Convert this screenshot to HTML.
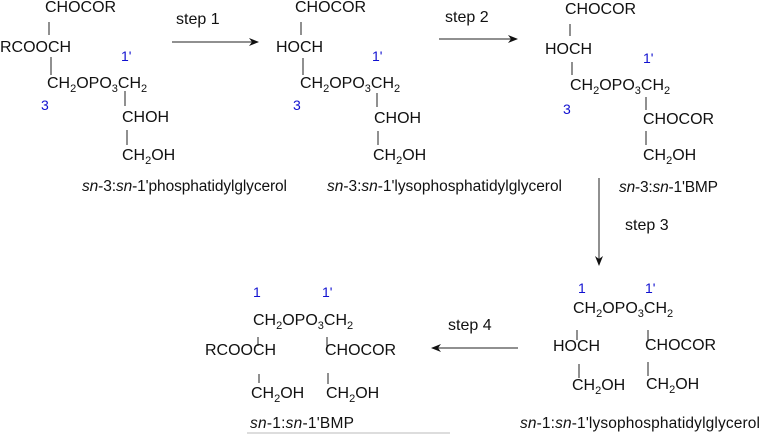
<!DOCTYPE html>
<html><head><meta charset="utf-8"><style>
html,body{margin:0;padding:0;background:#fff;}
svg{display:block;}
text{font-family:"Liberation Sans",Arial,sans-serif;font-size:16px;fill:#111;}
.b{fill:#1010d0;font-size:14px;}
.s{font-size:11px;}
.c{font-size:15.5px;}
line{stroke:#222;stroke-width:1;}
</style></head><body>
<svg width="762" height="434" viewBox="0 0 762 434" xmlns="http://www.w3.org/2000/svg">
<defs><marker id="ah" markerWidth="10" markerHeight="8" refX="9" refY="4" orient="auto" markerUnits="userSpaceOnUse"><path d="M0,0 L10,4 L0,8 L3,4 z" fill="#111"/></marker></defs>

<text x="45" y="12">CHOCOR</text>
<line x1="49" y1="22" x2="49" y2="35"/>
<text x="0" y="52">RCOOCH</text>
<line x1="51" y1="57" x2="51" y2="75"/>
<text x="47" y="88">CH<tspan class="s" dy="4">2</tspan><tspan dy="-4">OPO</tspan><tspan class="s" dy="4">3</tspan><tspan dy="-4">CH</tspan><tspan class="s" dy="4">2</tspan></text>
<text class="b" x="121" y="61">1'</text>
<text class="b" x="41" y="110">3</text>
<line x1="125" y1="91" x2="125" y2="106"/>
<text x="122" y="122">CHOH</text>
<line x1="127" y1="130" x2="127" y2="145"/>
<text x="122" y="160">CH<tspan class="s" dy="4">2</tspan><tspan dy="-4">OH</tspan></text>
<text class="c" x="82" y="191" textLength="205"><tspan font-style="italic">sn</tspan>-3:<tspan font-style="italic">sn</tspan>-1'phosphatidylglycerol</text>
<text x="176" y="24">step 1</text>
<line x1="172" y1="42" x2="258" y2="42" marker-end="url(#ah)"/>

<text x="295" y="12">CHOCOR</text>
<line x1="301" y1="22" x2="301" y2="35"/>
<text x="276" y="52">HOCH</text>
<line x1="303" y1="58" x2="303" y2="75"/>
<text x="300" y="88">CH<tspan class="s" dy="4">2</tspan><tspan dy="-4">OPO</tspan><tspan class="s" dy="4">3</tspan><tspan dy="-4">CH</tspan><tspan class="s" dy="4">2</tspan></text>
<text class="b" x="372" y="61">1'</text>
<text class="b" x="293" y="110">3</text>
<line x1="377" y1="93" x2="377" y2="107"/>
<text x="374" y="123">CHOH</text>
<line x1="378" y1="131" x2="378" y2="145"/>
<text x="373" y="160">CH<tspan class="s" dy="4">2</tspan><tspan dy="-4">OH</tspan></text>
<text class="c" x="327" y="191" textLength="235"><tspan font-style="italic">sn</tspan>-3:<tspan font-style="italic">sn</tspan>-1'lysophosphatidylglycerol</text>
<text x="445" y="22">step 2</text>
<line x1="439" y1="39" x2="517" y2="39" marker-end="url(#ah)"/>

<text x="565" y="14">CHOCOR</text>
<line x1="570" y1="24" x2="570" y2="36"/>
<text x="545" y="54">HOCH</text>
<line x1="572" y1="62" x2="572" y2="75"/>
<text x="570" y="90">CH<tspan class="s" dy="4">2</tspan><tspan dy="-4">OPO</tspan><tspan class="s" dy="4">3</tspan><tspan dy="-4">CH</tspan><tspan class="s" dy="4">2</tspan></text>
<text class="b" x="643" y="63">1'</text>
<text class="b" x="563" y="114">3</text>
<line x1="646" y1="97" x2="646" y2="110"/>
<text x="643" y="124">CHOCOR</text>
<line x1="646" y1="131" x2="646" y2="145"/>
<text x="643" y="160">CH<tspan class="s" dy="4">2</tspan><tspan dy="-4">OH</tspan></text>
<text class="c" x="619" y="192" textLength="99"><tspan font-style="italic">sn</tspan>-3:<tspan font-style="italic">sn</tspan>-1'BMP</text>
<line x1="599" y1="178" x2="599" y2="265" marker-end="url(#ah)"/>
<text x="625" y="230">step 3</text>

<text class="b" x="578" y="293">1</text>
<text class="b" x="645" y="293">1'</text>
<text x="573" y="313">CH<tspan class="s" dy="4">2</tspan><tspan dy="-4">OPO</tspan><tspan class="s" dy="4">3</tspan><tspan dy="-4">CH</tspan><tspan class="s" dy="4">2</tspan></text>
<line x1="577" y1="330" x2="577" y2="340"/>
<text x="553" y="351">HOCH</text>
<line x1="579" y1="364" x2="579" y2="378"/>
<text x="572" y="390">CH<tspan class="s" dy="4">2</tspan><tspan dy="-4">OH</tspan></text>
<line x1="648" y1="330" x2="648" y2="341"/>
<text x="645" y="350">CHOCOR</text>
<line x1="648" y1="362" x2="648" y2="376"/>
<text x="646" y="389">CH<tspan class="s" dy="4">2</tspan><tspan dy="-4">OH</tspan></text>
<text class="c" x="520" y="428" textLength="240"><tspan font-style="italic">sn</tspan>-1:<tspan font-style="italic">sn</tspan>-1'lysophosphatidylglycerol</text>

<text x="448" y="330">step 4</text>
<line x1="518" y1="348" x2="432" y2="348" marker-end="url(#ah)"/>

<text class="b" x="253" y="297">1</text>
<text class="b" x="322" y="297">1'</text>
<text x="253" y="325">CH<tspan class="s" dy="4">2</tspan><tspan dy="-4">OPO</tspan><tspan class="s" dy="4">3</tspan><tspan dy="-4">CH</tspan><tspan class="s" dy="4">2</tspan></text>
<line x1="258" y1="337" x2="258" y2="346"/>
<text x="205" y="355">RCOOCH</text>
<line x1="259" y1="374" x2="259" y2="383"/>
<text x="251" y="398">CH<tspan class="s" dy="4">2</tspan><tspan dy="-4">OH</tspan></text>
<line x1="327" y1="337" x2="327" y2="347"/>
<text x="325" y="355">CHOCOR</text>
<line x1="328" y1="373" x2="328" y2="384"/>
<text x="326" y="398">CH<tspan class="s" dy="4">2</tspan><tspan dy="-4">OH</tspan></text>
<text class="c" x="250" y="428" textLength="104"><tspan font-style="italic">sn</tspan>-1:<tspan font-style="italic">sn</tspan>-1'BMP</text>
<line x1="247" y1="433" x2="450" y2="433" style="stroke:#bbb"/>
</svg>
</body></html>
